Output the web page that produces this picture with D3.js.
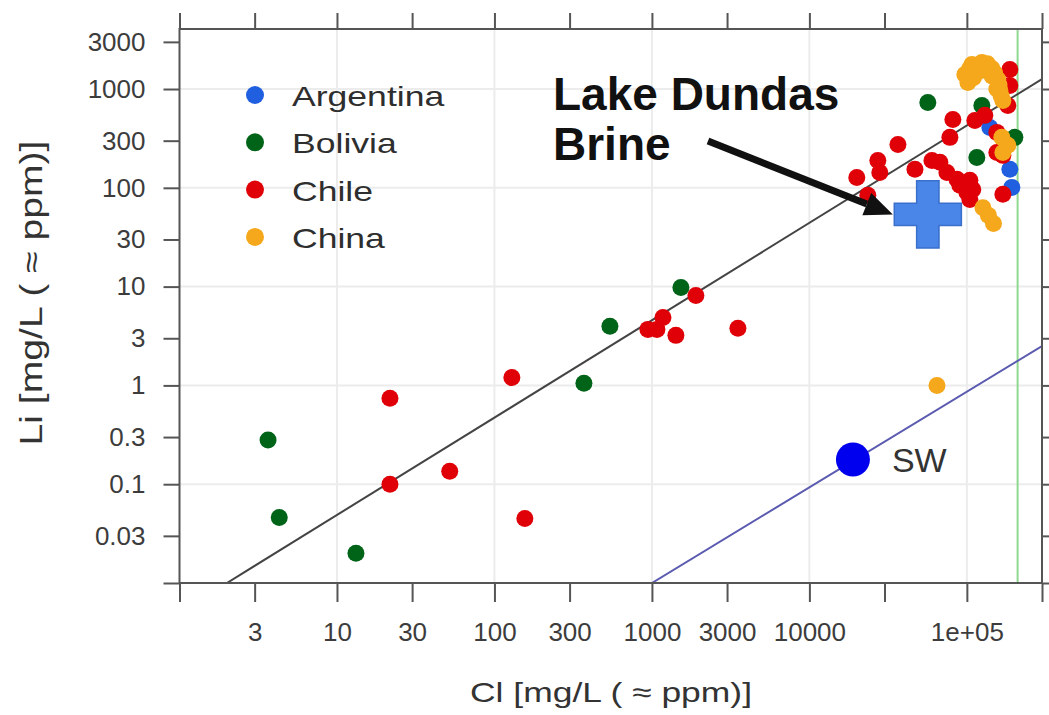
<!DOCTYPE html>
<html lang="en">
<head>
<meta charset="UTF-8">
<script src="https://cdn.jsdelivr.net/npm/d3@7"></script>
<title>Li vs Cl brines</title>
<style>
  body { margin: 0; background: #fff; }
  svg text { font-family: "Liberation Sans", Arial, sans-serif; }
</style>
</head>
<body>
<svg width="1049" height="715"></svg>
<script>
// values are [Cl, Li] in mg/L
var argentina = [[140000, 408], [187500, 154], [193000, 101]];
var bolivia = [[3.65, 0.28], [4.3, 0.046], [13.2, 0.020], [370, 1.05], [541, 3.96], [1528, 9.8],
  [56500, 731], [124500, 682], [115700, 203], [201700, 324]];
var chile = [[21.7, 0.74], [21.7, 0.1], [52, 0.135], [129, 1.2], [156, 0.045], [943, 3.69], [1076, 3.69],
  [1175, 4.88], [1420, 3.21], [1902, 8.15], [3516, 3.78],
  [20000, 127], [27200, 189], [28000, 143], [23500, 84], [36500, 275], [46800, 154], [60000, 189],
  [67400, 181], [74700, 143], [86500, 122], [104500, 119], [109000, 96], [100000, 90], [104500, 76],
  [81500, 492], [78000, 324], [112400, 481], [130000, 541], [187500, 1579], [187500, 1087],
  [182000, 682], [155000, 364], [155000, 228], [169300, 213], [169300, 86], [90300, 106]];
var china = [[64600, 1.0], [97100, 1406], [107600, 1774], [124500, 1858], [144200, 1617], [157300, 1250],
  [162100, 968], [169300, 767], [101500, 1166], [115700, 1472], [110000, 1300], [135000, 1800],
  [150000, 1450], [160000, 1100], [104000, 1600], [112000, 1550], [130000, 1550], [145000, 1350],
  [155000, 1000], [165000, 850], [166700, 324], [169300, 228], [182000, 269],
  [126500, 63], [137000, 52.6], [147600, 43.6]];
var seawater = [18900, 0.178];
var lakeDundas = [56500, 53.8];
var refLine = [[2.0, 0.01], [3e5, 1260]];
var swLine = [[1000, 0.01], [3e5, 2.5]];
var haliteCl = 210000;

var countries = ["Argentina", "Bolivia", "Chile", "China"];
var colors = ["#1f5fe0", "#006418", "#e00008", "#f5a81c"];
var series = [argentina, bolivia, chile, china];

var xTicks = [1, 3, 10, 30, 100, 300, 1000, 3000, 10000, 30000, 1e5, 3e5];
var xLabels = ["", "3", "10", "30", "100", "300", "1000", "3000", "10000", "", "1e+05", ""];
var yTicks = [0.01, 0.03, 0.1, 0.3, 1, 3, 10, 30, 100, 300, 1000, 3000];
var yLabels = ["", "0.03", "0.1", "0.3", "1", "3", "10", "30", "100", "300", "1000", "3000"];
var xGrid = [10, 100, 1000, 10000, 1e5];
var yGrid = [0.1, 1, 10, 100, 1000];

var svg = d3.select("svg");
var pl = 179.5, pr = 1042, pt = 29, pb = 583;

var x = d3.scaleLog().domain([1, 3e5]).range([pl, pr]);
var y = d3.scaleLog().domain([0.01, 4050]).range([pb, pt]);

svg.append("clipPath").attr("id", "plot")
  .append("rect").attr("x", pl).attr("y", pt)
  .attr("width", pr - pl).attr("height", pb - pt);

// grid
svg.append("g").selectAll("line").data(xGrid).enter().append("line")
  .attr("x1", function(d) { return x(d); }).attr("x2", function(d) { return x(d); })
  .attr("y1", pt).attr("y2", pb)
  .attr("stroke", "#ececec").attr("stroke-width", 2);
svg.append("g").selectAll("line").data(yGrid).enter().append("line")
  .attr("y1", function(d) { return y(d); }).attr("y2", function(d) { return y(d); })
  .attr("x1", pl).attr("x2", pr)
  .attr("stroke", "#ececec").attr("stroke-width", 2);

// axes on all four sides
function styleAxis(g) {
  g.select(".domain").remove();
  g.selectAll(".tick line").attr("stroke", "#555").attr("stroke-width", 2);
  g.selectAll(".tick text").attr("fill", "#3c3c3c").attr("font-size", 26)
    .attr("font-family", "'Liberation Sans', Arial, sans-serif");
}
svg.append("g").attr("transform", "translate(0," + pb + ")")
  .call(d3.axisBottom(x).tickValues(xTicks).tickFormat(function(d, i) { return xLabels[i]; })
    .tickSize(19).tickSizeOuter(0).tickPadding(21))
  .call(styleAxis);
svg.append("g").attr("transform", "translate(0," + pt + ")")
  .call(d3.axisTop(x).tickValues(xTicks).tickFormat("").tickSize(16).tickSizeOuter(0))
  .call(styleAxis);
svg.append("g").attr("transform", "translate(" + pl + ",0)")
  .call(d3.axisLeft(y).tickValues(yTicks).tickFormat(function(d, i) { return yLabels[i]; })
    .tickSize(16).tickSizeOuter(0).tickPadding(18))
  .call(styleAxis);
svg.append("g").attr("transform", "translate(" + pr + ",0)")
  .call(d3.axisRight(y).tickValues(yTicks).tickFormat("").tickSize(16).tickSizeOuter(0))
  .call(styleAxis);

var plot = svg.append("g").attr("clip-path", "url(#plot)");

var line = d3.line().x(function(d) { return x(d[0]); }).y(function(d) { return y(d[1]); });

// halite line
plot.append("line")
  .attr("x1", x(haliteCl)).attr("x2", x(haliteCl))
  .attr("y1", pt).attr("y2", pb)
  .attr("stroke", "#8fd88f").attr("stroke-width", 2);

plot.append("path").attr("d", line(refLine))
  .attr("fill", "none").attr("stroke", "#444").attr("stroke-width", 2);
plot.append("path").attr("d", line(swLine))
  .attr("fill", "none").attr("stroke", "#5a5ab0").attr("stroke-width", 2);

// points
series.forEach(function(s, k) {
  plot.append("g").selectAll("circle").data(s).enter().append("circle")
    .attr("cx", function(d) { return x(d[0]); })
    .attr("cy", function(d) { return y(d[1]); })
    .attr("r", 8.5)
    .attr("fill", colors[k]);
});

// seawater
plot.append("circle")
  .attr("cx", x(seawater[0])).attr("cy", y(seawater[1]))
  .attr("r", 17).attr("fill", "#0000ee");
svg.append("text")
  .attr("x", x(seawater[0]) + 39).attr("y", y(seawater[1]) + 13)
  .attr("font-size", 34).attr("fill", "#333")
  .text("SW");

// frame
svg.append("rect")
  .attr("x", pl).attr("y", pt).attr("width", pr - pl).attr("height", pb - pt)
  .attr("fill", "none").attr("stroke", "#555").attr("stroke-width", 2);

// Lake Dundas cross
var dx = x(lakeDundas[0]), dy = y(lakeDundas[1]);
svg.append("path")
  .attr("transform", "translate(" + dx + "," + dy + ")")
  .attr("d", d3.symbol().type(d3.symbolCross).size(2500)())
  .attr("fill", "#4a86e8").attr("stroke", "#3a6fcc").attr("stroke-width", 1.5);

// annotation
var ann = svg.append("g");
ann.append("text").attr("x", 553).attr("y", 110)
  .attr("font-size", 46).attr("font-weight", "bold").attr("fill", "#111")
  .text("Lake Dundas");
ann.append("text").attr("x", 553).attr("y", 160)
  .attr("font-size", 46).attr("font-weight", "bold").attr("fill", "#111")
  .text("Brine");

var ax0 = 708, ay0 = 141, ax1 = dx - 35, ay1 = dy;
var len = Math.sqrt((ax1 - ax0) * (ax1 - ax0) + (ay1 - ay0) * (ay1 - ay0));
var ux = (ax1 - ax0) / len, uy = (ay1 - ay0) / len;
var hl = 28, hw = 12;
ann.append("line")
  .attr("x1", ax0).attr("y1", ay0)
  .attr("x2", ax1 - ux * hl).attr("y2", ay1 - uy * hl)
  .attr("stroke", "#111").attr("stroke-width", 7);
ann.append("path")
  .attr("d", "M" + ax1 + "," + ay1 +
    "L" + (ax1 - ux * hl - uy * hw) + "," + (ay1 - uy * hl + ux * hw) +
    "L" + (ax1 - ux * hl + uy * hw) + "," + (ay1 - uy * hl - ux * hw) + "Z")
  .attr("fill", "#111");

// legend
var legend = svg.append("g");
countries.forEach(function(c, i) {
  var ly = 95 + i * 47.3;
  legend.append("circle").attr("cx", 255).attr("cy", ly).attr("r", 9).attr("fill", colors[i]);
  legend.append("text")
    .attr("transform", "translate(292," + (ly + 11) + ") scale(1.27,1)")
    .attr("font-size", 28).attr("fill", "#2e2e2e")
    .text(c);
});

// axis titles
svg.append("text")
  .attr("x", 611).attr("y", 702)
  .attr("text-anchor", "middle")
  .attr("font-size", 28).attr("fill", "#333")
  .attr("textLength", 282).attr("lengthAdjust", "spacingAndGlyphs")
  .text("Cl [mg/L ( \u2248 ppm)]");
svg.append("text")
  .attr("transform", "translate(42,293) rotate(-90)")
  .attr("text-anchor", "middle")
  .attr("font-size", 31).attr("fill", "#333")
  .attr("textLength", 305).attr("lengthAdjust", "spacingAndGlyphs")
  .text("Li [mg/L ( \u2248 ppm)]");
</script>
</body>
</html>
